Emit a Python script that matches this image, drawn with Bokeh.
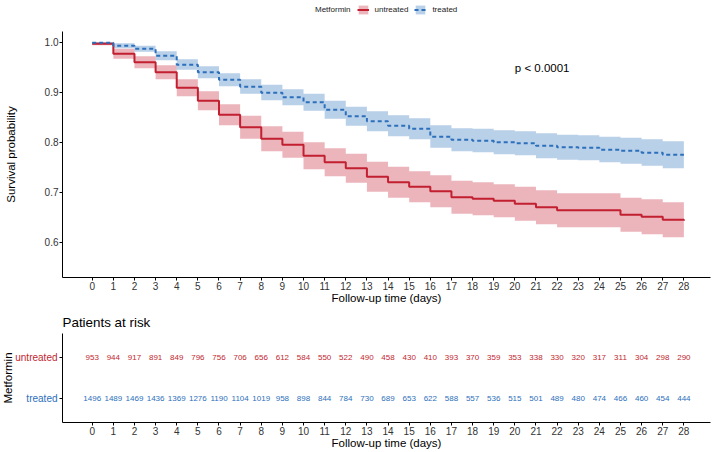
import math
from bokeh.plotting import figure
from bokeh.layouts import column, row
from bokeh.models import Range1d, FixedTicker, Legend, LegendItem, Label, PrintfTickFormatter
from bokeh.embed import file_html
from bokeh.resources import INLINE
from bokeh.core.properties import value

# ---------------- data ----------------
days = list(range(29))

untreated_surv = [0.997, 0.977, 0.960, 0.940, 0.909, 0.883, 0.855, 0.830, 0.807, 0.795,
                  0.773, 0.760, 0.748, 0.731, 0.720, 0.711, 0.702, 0.690, 0.687, 0.683,
                  0.677, 0.670, 0.664, 0.664, 0.664, 0.655, 0.651, 0.645, 0.643]
untreated_lower = [0.994, 0.967, 0.948, 0.926, 0.892, 0.864, 0.834, 0.807, 0.782, 0.769,
                   0.746, 0.732, 0.719, 0.701, 0.689, 0.680, 0.670, 0.657, 0.654, 0.650,
                   0.643, 0.636, 0.630, 0.630, 0.630, 0.621, 0.616, 0.610, 0.608]
untreated_upper = [1.000, 0.987, 0.972, 0.954, 0.926, 0.902, 0.876, 0.853, 0.832, 0.821,
                   0.800, 0.788, 0.777, 0.761, 0.751, 0.742, 0.734, 0.723, 0.720, 0.716,
                   0.711, 0.704, 0.698, 0.698, 0.698, 0.689, 0.686, 0.680, 0.678]

treated_surv = [0.999, 0.993, 0.987, 0.973, 0.955, 0.940, 0.925, 0.911, 0.899, 0.890,
                0.880, 0.865, 0.852, 0.842, 0.833, 0.827, 0.811, 0.805, 0.803, 0.800,
                0.798, 0.793, 0.790, 0.789, 0.785, 0.783, 0.779, 0.775, 0.775]
treated_lower = [0.997, 0.988, 0.981, 0.964, 0.945, 0.928, 0.912, 0.897, 0.884, 0.874,
                 0.863, 0.847, 0.833, 0.822, 0.812, 0.806, 0.789, 0.782, 0.780, 0.776,
                 0.774, 0.768, 0.765, 0.764, 0.760, 0.757, 0.753, 0.748, 0.748]
treated_upper = [1.000, 0.998, 0.993, 0.982, 0.966, 0.952, 0.938, 0.926, 0.915, 0.906,
                 0.897, 0.883, 0.871, 0.862, 0.854, 0.848, 0.834, 0.828, 0.827, 0.824,
                 0.822, 0.818, 0.815, 0.814, 0.811, 0.809, 0.806, 0.802, 0.802]

untreated_risk = [953, 944, 917, 891, 849, 796, 756, 706, 656, 612, 584, 550, 522, 490, 458,
                  430, 410, 393, 370, 359, 353, 338, 330, 320, 317, 311, 304, 298, 290]
treated_risk = [1496, 1489, 1469, 1436, 1369, 1276, 1190, 1104, 1019, 958, 898, 844, 784, 730,
                689, 653, 622, 588, 557, 536, 515, 501, 489, 480, 474, 466, 460, 454, 444]

y_ticks = [0.6, 0.7, 0.8, 0.9, 1.0]
group_labels = ["untreated", "treated"]
group_rows = [2, 1]
legend_title = "Metformin"
pval_text = "p < 0.0001"

# ---------------- style ----------------
FONT = "Liberation Sans"
RED = "#C21F30"
BLUE = "#2C6FBB"
TICK_COLOR = "#333333"
W = 716
LEFT_W = 58


def style(fig):
    fig.outline_line_color = None
    fig.xgrid.visible = False
    fig.ygrid.visible = False
    fig.background_fill_color = "white"
    fig.border_fill_color = "white"
    for ax in fig.axis:
        ax.axis_line_color = "black"
        ax.axis_line_width = 1
        ax.major_tick_line_color = "black"
        ax.major_tick_in = 0
        ax.major_tick_out = 3
        ax.minor_tick_line_color = None
        ax.major_label_text_font = FONT
        ax.major_label_text_font_size = "10px"
        ax.major_label_text_color = TICK_COLOR
        ax.major_label_standoff = 1
        ax.axis_label_text_font = FONT
        ax.axis_label_text_font_size = "11.5px"
        ax.axis_label_text_font_style = "normal"
        ax.axis_label_text_color = "black"
        ax.axis_label_standoff = -1


x_range = Range1d(-1.406, 29.26)

# ---------------- legend strip ----------------
p0 = figure(width=W, height=31, x_range=Range1d(0, 1), y_range=Range1d(0, 1),
            output_backend="svg", toolbar_location=None, title=None,
            min_border_left=0, min_border_right=0, min_border_top=0, min_border_bottom=0)
p0.axis.visible = False
p0.grid.visible = False
p0.outline_line_color = None
lg_dummy = p0.line(x=[5, 6], y=[5, 5], line_alpha=0)
lg_red_band = p0.varea(x=[5, 6], y1=[5, 5], y2=[6, 6], fill_color=RED, fill_alpha=0.33)
lg_red_line = p0.line(x=[5, 6], y=[5, 5], line_color=RED, line_width=2)
lg_blue_band = p0.varea(x=[5, 6], y1=[5, 5], y2=[6, 6], fill_color=BLUE, fill_alpha=0.33)
lg_blue_line = p0.line(x=[5, 6], y=[5, 5], line_color=BLUE, line_width=2, line_dash="4 3")
legend = Legend(items=[LegendItem(label=legend_title, renderers=[lg_dummy]),
                       LegendItem(label=group_labels[0], renderers=[lg_red_band, lg_red_line]),
                       LegendItem(label=group_labels[1], renderers=[lg_blue_band, lg_blue_line])],
                orientation="horizontal", location=(235, 16),
                label_text_font=FONT, label_text_font_size="8px", label_text_color="#222222",
                glyph_width=12, glyph_height=11, label_height=11, label_standoff=6, spacing=6,
                padding=0, margin=0, border_line_color=None, background_fill_alpha=0)
p0.add_layout(legend)

# ---------------- survival plot ----------------
p = figure(width=W, height=277, x_range=x_range, y_range=Range1d(0.5294, 1.0214),
           output_backend="svg", toolbar_location=None, title=None,
           min_border_left=62, min_border_right=6, min_border_top=0, min_border_bottom=31)

p.varea_step(x=days, y1=untreated_lower, y2=untreated_upper, step_mode="after",
             fill_color=RED, fill_alpha=0.33)
p.varea_step(x=days, y1=treated_lower, y2=treated_upper, step_mode="after",
             fill_color=BLUE, fill_alpha=0.33)
p.step(x=days, y=untreated_surv, mode="after", line_color=RED, line_width=2)
p.step(x=days, y=treated_surv, mode="after", line_color=BLUE, line_width=2, line_dash="4 3")

p.xaxis.ticker = FixedTicker(ticks=days)
p.xaxis.axis_label = "Follow-up time (days)"
p.yaxis.ticker = FixedTicker(ticks=y_ticks)
p.yaxis.formatter = PrintfTickFormatter(format="%.1f")
p.yaxis.axis_label = "Survival probability"
style(p)
p.yaxis.axis_label_standoff = 25

p.add_layout(Label(x=20.0, y=0.949, text=pval_text, text_align="left", text_baseline="middle",
                   text_font=FONT, text_font_size="11.5px", text_color="black"))

# ---------------- risk table ----------------
risk_y = Range1d(0.4, 2.6)

pl = figure(width=LEFT_W, height=144, x_range=Range1d(0, LEFT_W), y_range=risk_y,
            output_backend="svg", toolbar_location=None, title=None,
            min_border_left=0, min_border_right=0, min_border_top=25, min_border_bottom=30)
pl.axis.visible = False
pl.grid.visible = False
pl.outline_line_color = None
pl.text(x=[LEFT_W - 1] * 2, y=group_rows, text=group_labels,
        text_color=[RED, BLUE], text_font=value(FONT), text_font_size="10px",
        text_align="right", text_baseline="middle")
pl.text(x=[7.5], y=[1.5], text=[legend_title], angle=math.pi / 2,
        text_color="black", text_font=value(FONT), text_font_size="11.5px",
        text_align="center", text_baseline="middle")

p2 = figure(width=W - LEFT_W, height=144, x_range=x_range, y_range=risk_y,
            output_backend="svg", toolbar_location=None,
            min_border_left=4, min_border_right=6, min_border_top=25, min_border_bottom=30)
p2.text(x=days, y=[2] * len(days), text=[str(v) for v in untreated_risk],
        text_font=value(FONT), text_font_size="8px", text_align="center",
        text_baseline="middle", text_color=RED)
p2.text(x=days, y=[1] * len(days), text=[str(v) for v in treated_risk],
        text_font=value(FONT), text_font_size="8px", text_align="center",
        text_baseline="middle", text_color=BLUE)

p2.xaxis.ticker = FixedTicker(ticks=days)
p2.xaxis.axis_label = "Follow-up time (days)"
p2.yaxis.ticker = FixedTicker(ticks=group_rows)
p2.yaxis.major_label_overrides = {1: "", 2: ""}
style(p2)
p2.yaxis.major_label_standoff = 0

p2.title.text = "Patients at risk"
p2.title.text_font = FONT
p2.title.text_font_size = "13.4px"
p2.title.text_font_style = "normal"
p2.title.text_color = "black"
p2.title.align = "left"
p2.title.standoff = 8

layout = column(p0, p, row(pl, p2, spacing=0), spacing=0)
open("out.html", "w").write(file_html(layout, INLINE))
